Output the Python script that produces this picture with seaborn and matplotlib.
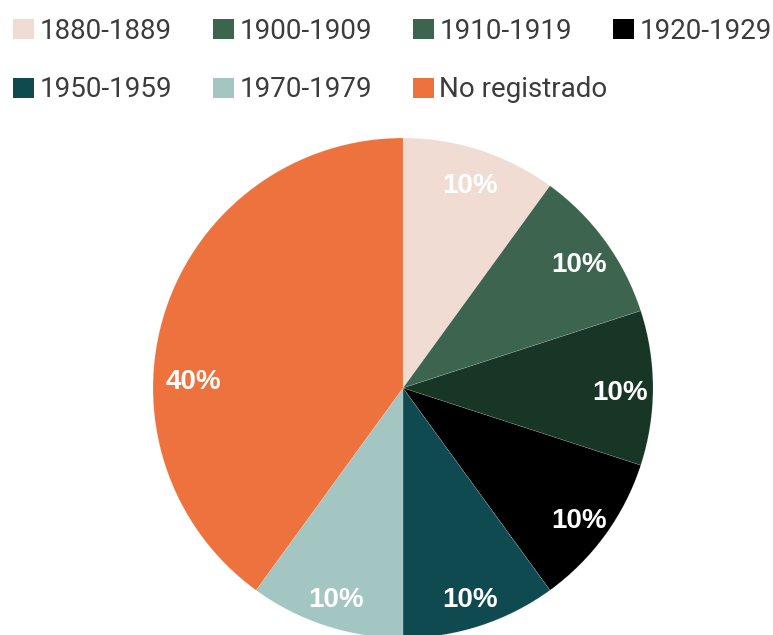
import numpy as np
import seaborn as sns
import matplotlib.pyplot as plt
import matplotlib.transforms as mtransforms
from matplotlib.patches import Patch

# data
decades = ['1880-1889', '1900-1909', '1910-1919', '1920-1929',
           '1950-1959', '1970-1979', 'No registrado']
shares = [10, 10, 10, 10, 10, 10, 40]
slice_colors = ['#f0dcd2', '#3d644f', '#173626', '#000000',
                '#0f4a50', '#a3c6c3', '#ed723d']
# legend swatches (1910-1919 shows the lighter green in the legend)
legend_colors = ['#f0dcd2', '#3d644f', '#3d644f', '#000000',
                 '#0f4a50', '#a3c6c3', '#ed723d']

sns.set_theme(style='white')
plt.rcParams['font.family'] = ['Roboto', 'DejaVu Sans']

W, H, DPI = 773, 635, 100
fig = plt.figure(figsize=(W / DPI, H / DPI), dpi=DPI)

# pie: radius 250 px, centre at (403, 388) px from top-left
R = 250
cx, cy = 403, H - 388
ax = fig.add_axes([(cx - R) / W, (cy - R) / H, 2 * R / W, 2 * R / H])

wedges, texts, autotexts = ax.pie(
    shares, colors=slice_colors, startangle=90, counterclock=False,
    autopct='%1.0f%%', pctdistance=0.87,
    wedgeprops=dict(linewidth=0.4, edgecolor=(1, 1, 1, 0.25)),
    textprops=dict(color='white', fontsize=20, fontweight='bold',
                   family=['Liberation Sans', 'DejaVu Sans']))
ax.set_xlim(-1, 1)
ax.set_ylim(-1, 1)
ax.set_aspect('equal')
ax.axis('off')

# the big slice's label sits near the left edge
ang = np.deg2rad(177)
autotexts[-1].set_position((0.84 * np.cos(ang), 0.84 * np.sin(ang)))
# labels sit a few pixels lower than matplotlib's centring
shift = mtransforms.ScaledTranslation(0, -5 / DPI, fig.dpi_scale_trans)
for t in autotexts:
    t.set_transform(t.get_transform() + shift)

# legend: four fixed-width columns of two rows
columns = [[0, 4], [1, 5], [2, 6], [3]]
col_x = [13, 213, 413, 613]
for x0, idx in zip(col_x, columns):
    handles = [Patch(facecolor=legend_colors[i], edgecolor='none') for i in idx]
    labels = [decades[i] for i in idx]
    leg = fig.legend(handles, labels, loc='upper left',
                     bbox_to_anchor=(x0 / W, 1 - 18 / H),
                     frameon=False, fontsize=20, handlelength=0.75,
                     handleheight=0.75, handletextpad=0.2,
                     labelspacing=1.13, borderpad=0, borderaxespad=0)
    for t in leg.get_texts():
        t.set_color('#3c3c3c')
        t.set_fontweight('normal')

fig.savefig('out.png', dpi=DPI)
